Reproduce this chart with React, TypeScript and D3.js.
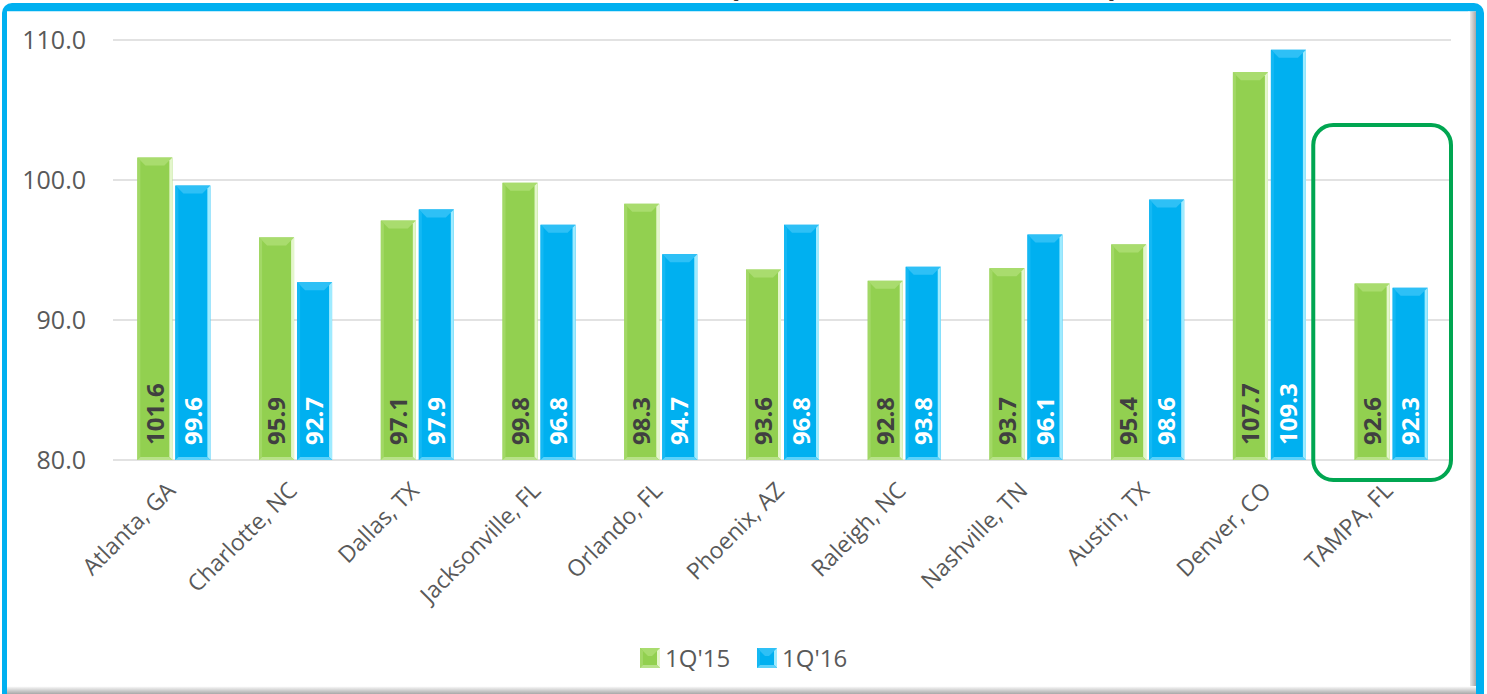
import React from "react";
import * as d3 from "d3";

const cities = ["Atlanta, GA", "Charlotte, NC", "Dallas, TX", "Jacksonville, FL", "Orlando, FL", "Phoenix, AZ", "Raleigh, NC", "Nashville, TN", "Austin, TX", "Denver, CO", "TAMPA, FL"];
const q15 = [101.6, 95.9, 97.1, 99.8, 98.3, 93.6, 92.8, 93.7, 95.4, 107.7, 92.6];
const q16 = [99.6, 92.7, 97.9, 96.8, 94.7, 96.8, 93.8, 96.1, 98.6, 109.3, 92.3];
const yTicks = [80, 90, 100, 110];
const seriesNames = ["1Q'15", "1Q'16"];

const W = 1487, H = 694;
const FONT = "'Open Sans', 'DejaVu Sans', sans-serif";

const styles = [
  { face: "#92D050", top: "#A9DC6E", right: "#E4F6CC", left: "#A2D866", bottom: "#B8E28A", label: "#404040" },
  { face: "#00B0F0", top: "#2EC0F6", right: "#9EEBFF", left: "#14B8F3", bottom: "#5CD2FA", label: "#FFFFFF" },
];

function Bar({ x, y, w, h, s }: { x: number; y: number; w: number; h: number; s: any }) {
  const b = 8;
  const r = 3;
  return (
    <g>
      <rect x={x} y={y} width={w} height={h} fill={s.face} />
      <polygon points={`${x},${y} ${x + w},${y} ${x + w - b},${y + b} ${x + b},${y + b}`} fill={s.top} />
      <polygon points={`${x + w},${y} ${x + w},${y + h} ${x + w - r},${y + h - r} ${x + w - r},${y + r}`} fill={s.right} />
      <polygon points={`${x},${y} ${x + r},${y + r} ${x + r},${y + h - r} ${x},${y + h}`} fill={s.left} />
      <polygon points={`${x},${y + h} ${x + w},${y + h} ${x + w - r},${y + h - r} ${x + r},${y + h - r}`} fill={s.bottom} />
    </g>
  );
}

export default function App() {
  const x = d3.scaleBand<string>().domain(cities).range([113, 1452]);
  const y = d3.scaleLinear().domain([80, 110]).range([460, 40]);
  const barW = 35, gap = 3;
  const series = [q15, q16];

  const lastX = x(cities[cities.length - 1])!;

  return (
    <svg width={W} height={H} style={{ position: "absolute", left: 0, top: 0, display: "block" }}>
      <defs>
        <linearGradient id="shR" x1="0" x2="1" y1="0" y2="0">
          <stop offset="0" stopColor="#ffffff" />
          <stop offset="1" stopColor="#a8a8a8" />
        </linearGradient>
        <linearGradient id="shB" x1="0" x2="0" y1="0" y2="1">
          <stop offset="0" stopColor="#ffffff" />
          <stop offset="1" stopColor="#a8a8a8" />
        </linearGradient>
      </defs>
      <rect width={W} height={H} fill="#ffffff" />
      {/* title remnants (clipped above the frame, as in the reference) */}
      <text x={728} y={-5} fontFamily={FONT} fontWeight="bold" fontSize={34} fill="#000">(</text>
      <text x={1108} y={-5} fontFamily={FONT} fontWeight="bold" fontSize={34} fill="#000">)</text>
      {/* frame */}
      <rect x={2} y={3} width={1482} height={800} rx={10} fill="#00B0F0" />
      <rect x={7} y={11.5} width={1469} height={800} fill="#ffffff" />
      <rect x={1468} y={11.5} width={8} height={682} fill="url(#shR)" />
      <rect x={7} y={686} width={1469} height={8} fill="url(#shB)" />
      <rect x={7} y={11.5} width={1463} height={675} fill="#ffffff" />

      {/* grid */}
      {yTicks.map((t) => (
        <g key={t}>
          <line x1={113} x2={1451} y1={y(t)} y2={y(t)} stroke="#D9D9D9" strokeWidth={1.5} />
          <text x={86} y={y(t)} dy="0.35em" textAnchor="end" fontFamily={FONT} fontSize={25} fill="#595959">
            {d3.format(".1f")(t)}
          </text>
        </g>
      ))}

      {/* bars */}
      {cities.map((c, i) => {
        const cx = x(c)! + x.bandwidth() / 2;
        return (
          <g key={c}>
            {series.map((vals, si) => {
              const bx = si === 0 ? cx - gap / 2 - barW : cx + gap / 2;
              const by = y(vals[i]);
              const h = y(80) - by;
              return (
                <g key={si}>
                  <Bar x={bx} y={by} w={barW} h={h} s={styles[si]} />
                  <text
                    transform={`translate(${bx + barW / 2},${y(80) - 15}) rotate(-90)`}
                    dy="0.36em"
                    textAnchor="start"
                    fontFamily={FONT}
                    fontWeight="bold"
                    fontSize={24}
                    fill={styles[si].label}
                  >
                    {d3.format(".1f")(vals[i])}
                  </text>
                </g>
              );
            })}
            <text
              transform={`translate(${cx + 3},${492}) rotate(-45)`}
              textAnchor="end"
              fontFamily={FONT}
              fontSize={23}
              fill="#595959"
            >
              {c}
            </text>
          </g>
        );
      })}

      {/* highlight box */}
      <rect x={lastX - 17} y={125} width={x.bandwidth() + 16} height={355} rx={20} fill="none" stroke="#00A651" strokeWidth={4} />

      {/* legend */}
      {seriesNames.map((n, i) => {
        const lx = i === 0 ? 640 : 757;
        return (
          <g key={n}>
            <Bar x={lx} y={648} w={20} h={20} s={styles[i]} />
            <text x={lx + 25} y={658} dy="0.36em" fontFamily={FONT} fontSize={24} fill="#595959">{n}</text>
          </g>
        );
      })}
    </svg>
  );
}
